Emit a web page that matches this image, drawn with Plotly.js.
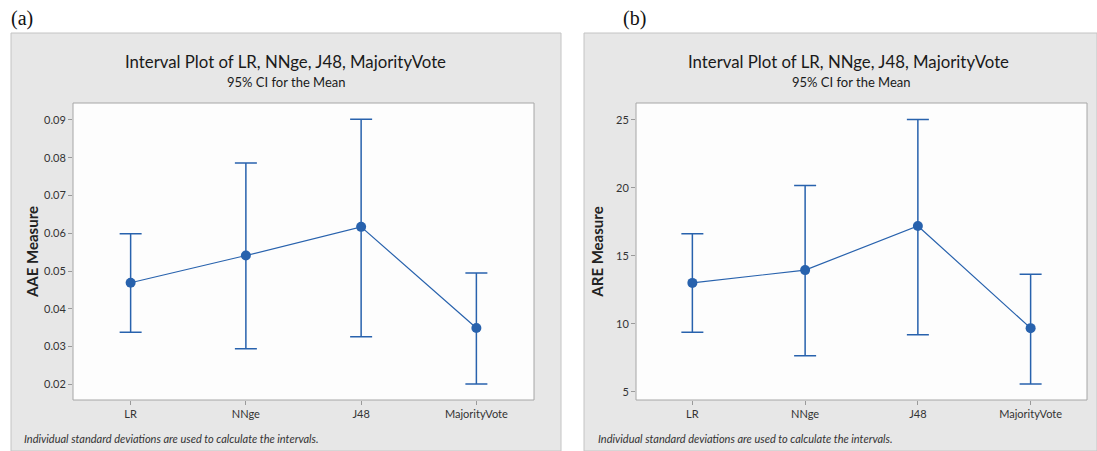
<!DOCTYPE html>
<html>
<head>
<meta charset="utf-8">
<script src="https://cdn.plot.ly/plotly-3.0.1.min.js"></script>
<style>
  html, body { margin: 0; padding: 0; background: #ffffff; }
  #chart { width: 1097px; height: 451px; }
</style>
</head>
<body>
<div id="chart"></div>
<script>
// Classifiers compared in both interval plots
const categories = ["LR", "NNge", "J48", "MajorityVote"];

// (a) AAE measure: mean and 95% CI bounds
const aaeMean  = [0.0469, 0.0541, 0.0617, 0.0349];
const aaeUpper = [0.0599, 0.0786, 0.0902, 0.0495];
const aaeLower = [0.0338, 0.0294, 0.0326, 0.0201];
const aaeTicks = [0.02, 0.03, 0.04, 0.05, 0.06, 0.07, 0.08, 0.09];

// (b) ARE measure: mean and 95% CI bounds
const areMean  = [13.01, 13.95, 17.20, 9.68];
const areUpper = [16.62, 20.18, 25.03, 13.65];
const areLower = [9.37, 7.65, 9.19, 5.57];
const areTicks = [5, 10, 15, 20, 25];

const W = 1097, H = 451;
const px = x => x / W;            // pixel -> paper x
const py = y => (H - y) / H;      // pixel (from top) -> paper y

const blue = "#2862ad";
const uiFont = "Lato, 'Noto Sans', sans-serif";

function intervalTrace(mean, upper, lower, xa, ya) {
  return {
    type: "scatter",
    mode: "lines+markers",
    x: categories,
    y: mean,
    xaxis: xa,
    yaxis: ya,
    line: { color: blue, width: 1.2 },
    marker: { color: blue, size: 10 },
    error_y: {
      type: "data",
      symmetric: false,
      array: upper.map((u, i) => u - mean[i]),
      arrayminus: mean.map((m, i) => m - lower[i]),
      color: blue,
      thickness: 1.5,
      width: 11
    },
    hoverinfo: "x+y",
    showlegend: false
  };
}

const data = [
  intervalTrace(aaeMean, aaeUpper, aaeLower, "x", "y"),
  intervalTrace(areMean, areUpper, areLower, "x2", "y2")
];

const xBase = {
  type: "category",
  range: [-0.5, 3.5],
  showgrid: false,
  zeroline: false,
  showline: false,
  ticks: "outside",
  ticklen: 4,
  tickcolor: "#9a9a9a",
  tickfont: { family: uiFont, size: 11, color: "#333333" },
  fixedrange: true
};
const yBase = {
  showgrid: false,
  zeroline: false,
  showline: false,
  ticks: "outside",
  ticklen: 4,
  tickcolor: "#9a9a9a",
  tickfont: { family: uiFont, size: 11, color: "#333333" },
  fixedrange: true
};

const plotBottom = 400, plotTop = 103;
const axisTitleFont = { family: uiFont, size: 15, color: "#222222" };

const layout = {
  width: W,
  height: H,
  margin: { l: 0, r: 0, t: 0, b: 0 },
  paper_bgcolor: "#ffffff",
  plot_bgcolor: "#fdfdfd",
  font: { family: uiFont, color: "#222222" },
  xaxis: Object.assign({}, xBase, {
    domain: [px(73), px(534)], anchor: "y"
  }),
  yaxis: Object.assign({}, yBase, {
    domain: [py(plotBottom), py(plotTop)], anchor: "x",
    range: [0.01584, 0.0945],
    tickvals: aaeTicks,
    ticktext: aaeTicks.map(v => v.toFixed(2)),
    title: { text: "<b>AAE Measure</b>", font: axisTitleFont, standoff: 1 }
  }),
  xaxis2: Object.assign({}, xBase, {
    domain: [px(636), px(1087)], anchor: "y2"
  }),
  yaxis2: Object.assign({}, yBase, {
    domain: [py(plotBottom), py(plotTop)], anchor: "x2",
    range: [4.39, 26.25],
    tickvals: areTicks,
    ticktext: areTicks.map(String),
    title: { text: "<b>ARE Measure</b>", font: axisTitleFont, standoff: 8 }
  }),
  shapes: [
    // grey panel backgrounds
    { type: "rect", xref: "paper", yref: "paper", layer: "below",
      x0: px(11), x1: px(561), y0: py(451), y1: py(33),
      fillcolor: "#e7e7e7", line: { color: "#c4c4c4", width: 1 } },
    { type: "rect", xref: "paper", yref: "paper", layer: "below",
      x0: px(584), x1: px(1097), y0: py(451), y1: py(33),
      fillcolor: "#e7e7e7", line: { color: "#c4c4c4", width: 1 } },
    // white plot areas with frames
    { type: "rect", xref: "x domain", yref: "y domain", layer: "below", x0: 0, x1: 1, y0: 0, y1: 1,
      fillcolor: "#fdfdfd", line: { color: "#a6a6a6", width: 1 } },
    { type: "rect", xref: "x2 domain", yref: "y2 domain", layer: "below", x0: 0, x1: 1, y0: 0, y1: 1,
      fillcolor: "#fdfdfd", line: { color: "#a6a6a6", width: 1 } }
  ],
  annotations: [
    { text: "(a)", xref: "paper", yref: "paper", x: px(9), y: py(19), xanchor: "left", yanchor: "middle",
      showarrow: false, font: { family: "'Liberation Serif', 'DejaVu Serif', serif", size: 20, color: "#111111" } },
    { text: "(b)", xref: "paper", yref: "paper", x: px(621), y: py(19), xanchor: "left", yanchor: "middle",
      showarrow: false, font: { family: "'Liberation Serif', 'DejaVu Serif', serif", size: 20, color: "#111111" } },

    { text: "Interval Plot of LR, NNge, J48, MajorityVote", xref: "paper", yref: "paper",
      x: px(285), y: py(61), xanchor: "center", yanchor: "middle", showarrow: false,
      font: { family: uiFont, size: 16.8, color: "#1a1a1a" } },
    { text: "95% CI for the Mean", xref: "paper", yref: "paper",
      x: px(286), y: py(82), xanchor: "center", yanchor: "middle", showarrow: false,
      font: { family: uiFont, size: 13, color: "#1a1a1a" } },
    { text: "Interval Plot of LR, NNge, J48, MajorityVote", xref: "paper", yref: "paper",
      x: px(848), y: py(61), xanchor: "center", yanchor: "middle", showarrow: false,
      font: { family: uiFont, size: 16.8, color: "#1a1a1a" } },
    { text: "95% CI for the Mean", xref: "paper", yref: "paper",
      x: px(851), y: py(82), xanchor: "center", yanchor: "middle", showarrow: false,
      font: { family: uiFont, size: 13, color: "#1a1a1a" } },

    { text: "<i>Individual standard deviations are used to calculate the intervals.</i>", xref: "paper", yref: "paper",
      x: px(22), y: py(438), xanchor: "left", yanchor: "middle", showarrow: false,
      font: { family: uiFont, size: 11, color: "#333333" } },
    { text: "<i>Individual standard deviations are used to calculate the intervals.</i>", xref: "paper", yref: "paper",
      x: px(596), y: py(438), xanchor: "left", yanchor: "middle", showarrow: false,
      font: { family: uiFont, size: 11, color: "#333333" } }
  ]
};

Plotly.newPlot("chart", data, layout, { displayModeBar: false });
</script>
</body>
</html>
